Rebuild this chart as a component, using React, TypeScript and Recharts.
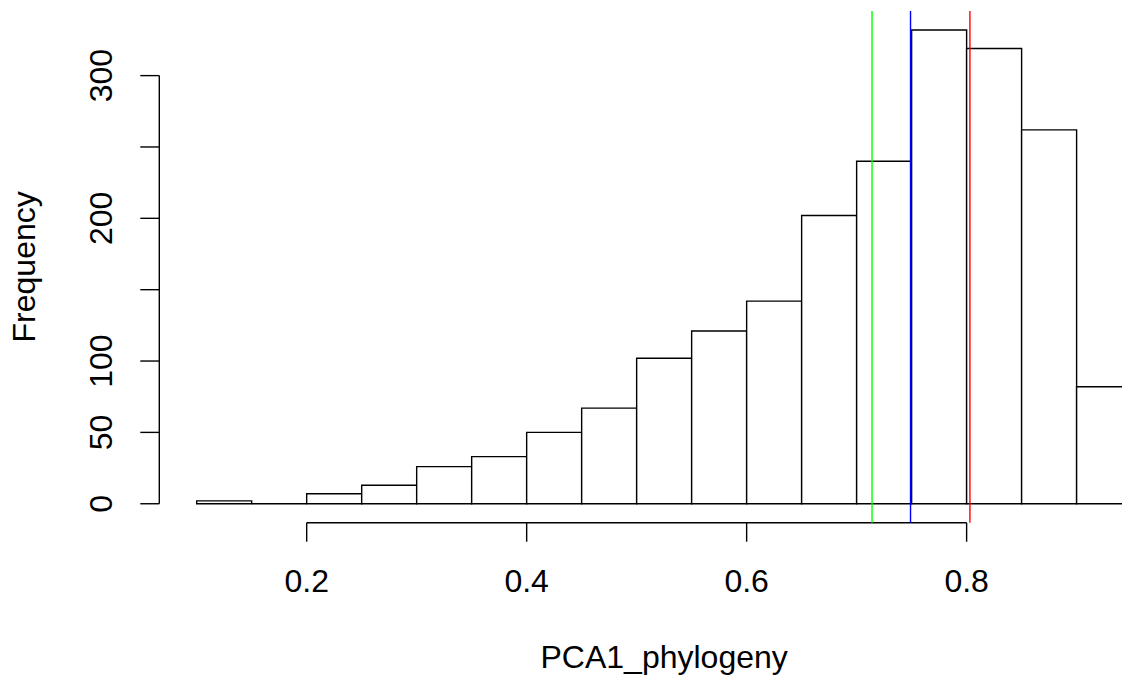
import React from 'react';
import { ComposedChart, Line, XAxis, YAxis, ReferenceArea, ReferenceLine } from 'recharts';

// histogram bins (left edge) and counts, bin width 0.05
const binStarts = [0.1, 0.15, 0.2, 0.25, 0.3, 0.35, 0.4, 0.45, 0.5, 0.55, 0.6, 0.65, 0.7, 0.75, 0.8, 0.85, 0.9];
const counts = [2, 0, 7, 13, 26, 33, 50, 67, 102, 121, 142, 202, 240, 332, 319, 262, 82];
const binWidth = 0.05;

const xTicks = [0.2, 0.4, 0.6, 0.8];
const yTicks = [0, 50, 100, 150, 200, 250, 300];
const yLabels = [0, 50, 100, 200, 300]; // R drops 150 and 250 (overlap)

const greenV = 0.714;
const blueV = 0.749;
const redV = 0.803;

const xDomain: [number, number] = [0.066, 0.984];
const yDomain: [number, number] = [-13.28, 345.28];

const FONT = '"Liberation Sans", Arial, Helvetica, sans-serif';
const LW = 1.4;

const data = binStarts.map((lo, i) => ({ mid: lo + binWidth / 2, lo, hi: lo + binWidth, count: counts[i] }));

const XTick = (props: any) => {
  const { x, y, payload } = props;
  return (
    <text x={x} y={y + 48} textAnchor="middle" fontSize={32} fontFamily={FONT} fill="#000">
      {payload.value}
    </text>
  );
};

const YTick = (props: any) => {
  const { x, y, payload } = props;
  if (!yLabels.includes(payload.value)) return null;
  return (
    <text transform={`translate(${x - 26}, ${y}) rotate(-90)`} textAnchor="middle" fontSize={32} fontFamily={FONT} fill="#000">
      {payload.value}
    </text>
  );
};

const XTitle = (props: any) => {
  const vb = props.viewBox ?? { x: 159.3, y: 522.7, width: 1009.7, height: 152.3 };
  return (
    <text x={vb.x + vb.width / 2} y={vb.y + 145.5} textAnchor="middle" fontSize={32} fontFamily={FONT} fill="#000">
      PCA1_phylogeny
    </text>
  );
};

const YTitle = (props: any) => {
  const vb = props.viewBox ?? { x: 0, y: 11, width: 159.3, height: 511.7 };
  return (
    <text transform={`translate(35, ${vb.y + vb.height / 2}) rotate(-90)`} textAnchor="middle" fontSize={32} fontFamily={FONT} fill="#000">
      Frequency
    </text>
  );
};

export default function App() {
  return (
    <div style={{ position: 'absolute', left: 0, top: 0, width: 1122, height: 675, overflow: 'hidden', background: '#fff' }}>
      <ComposedChart width={1169} height={675} data={data} margin={{ top: 11, right: 0, bottom: 0, left: 0 }}>
        <XAxis
          type="number"
          dataKey="mid"
          domain={xDomain}
          allowDataOverflow
          ticks={xTicks}
          interval={0}
          axisLine={false}
          tickSize={19}
          tickLine={{ stroke: '#000', strokeWidth: LW }}
          tick={<XTick />}
          height={152.3}
          label={<XTitle />}
        />
        <YAxis
          type="number"
          domain={yDomain}
          allowDataOverflow
          ticks={yTicks}
          interval={0}
          axisLine={false}
          tickSize={19}
          tickLine={{ stroke: '#000', strokeWidth: LW }}
          tick={<YTick />}
          width={159.3}
          label={<YTitle />}
        />
        {data.map((d) =>
          d.count > 0 ? (
            <ReferenceArea
              key={d.lo}
              x1={d.lo}
              x2={d.hi}
              y1={0}
              y2={d.count}
              fill="#fff"
              fillOpacity={1}
              stroke="#000"
              strokeWidth={LW}
            />
          ) : (
            <ReferenceLine
              key={d.lo}
              segment={[{ x: d.lo, y: 0 }, { x: d.hi, y: 0 }]}
              stroke="#000"
              strokeWidth={LW}
            />
          )
        )}
        <ReferenceLine segment={[{ x: xDomain[0], y: 0 }, { x: xDomain[0], y: 300 }]} stroke="#000" strokeWidth={LW} ifOverflow="visible" />
        <ReferenceLine segment={[{ x: 0.2, y: yDomain[0] }, { x: 0.8, y: yDomain[0] }]} stroke="#000" strokeWidth={LW} ifOverflow="visible" />
        <ReferenceLine x={greenV} stroke="#00ff00" strokeWidth={LW} />
        <ReferenceLine x={blueV} stroke="#0000ff" strokeWidth={LW} />
        <ReferenceLine x={redV} stroke="#ff0000" strokeWidth={LW} />
        <Line dataKey="count" stroke="none" dot={false} activeDot={false} isAnimationActive={false} />
      </ComposedChart>
    </div>
  );
}
